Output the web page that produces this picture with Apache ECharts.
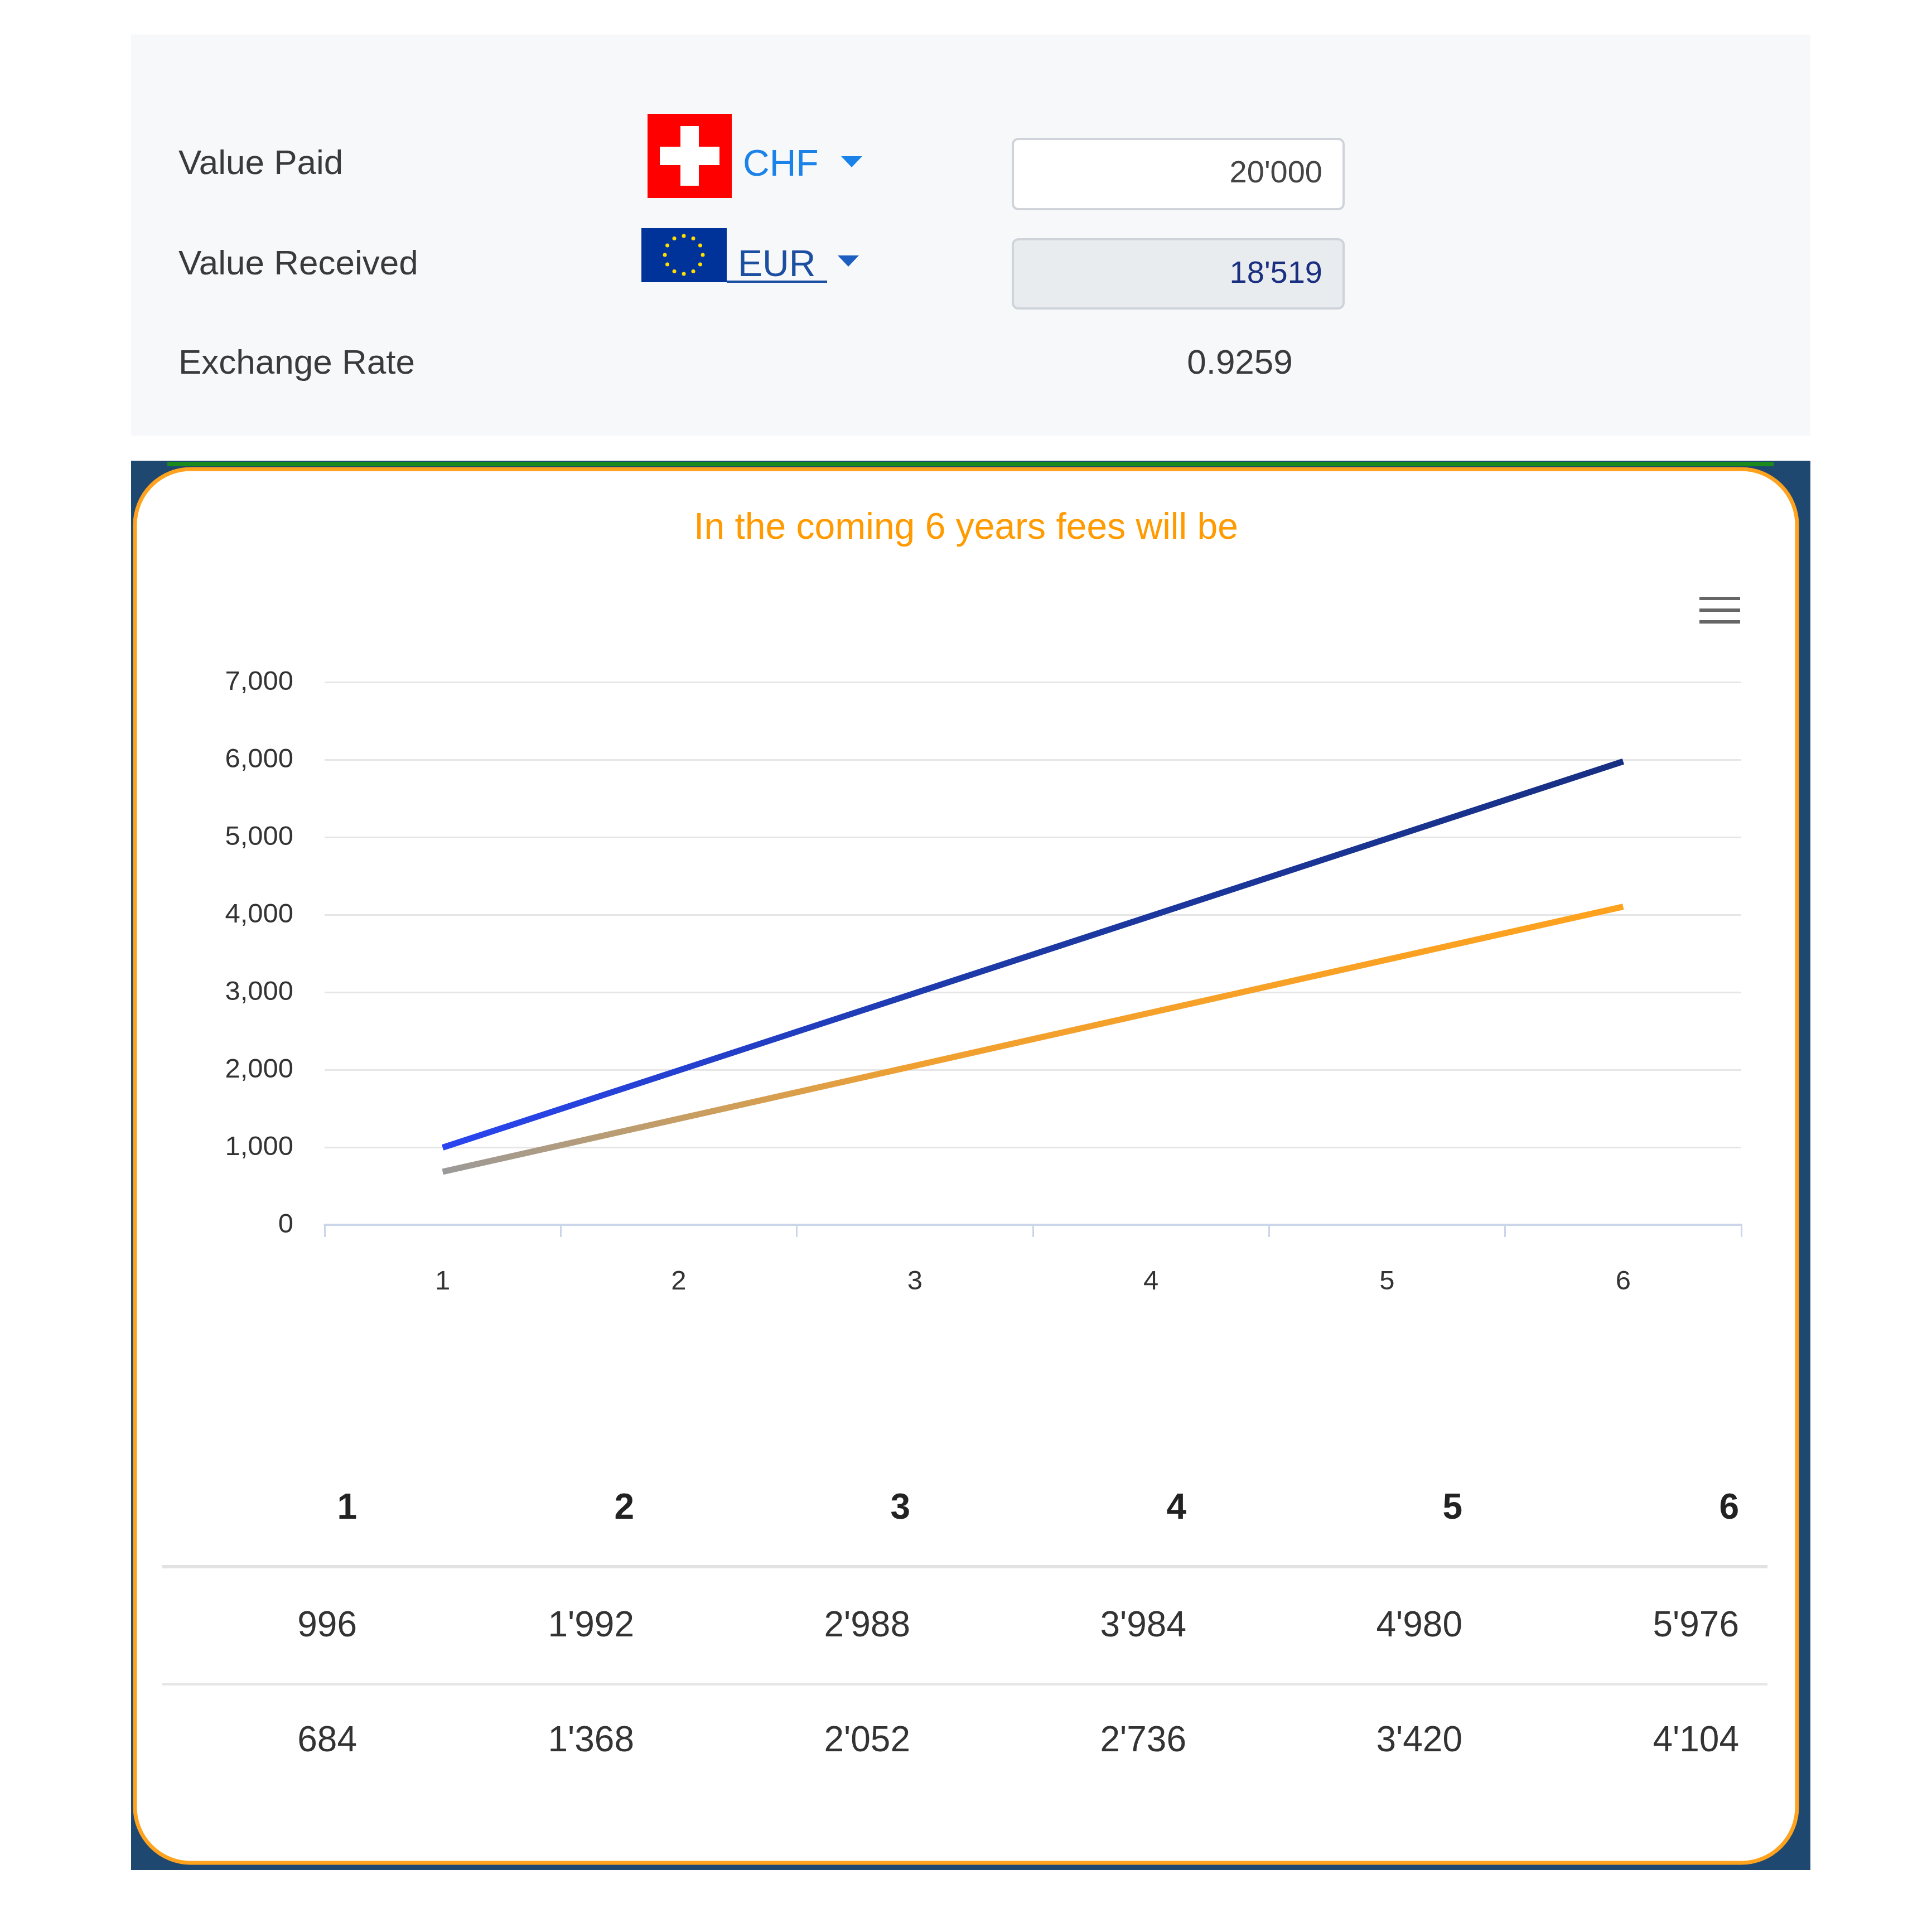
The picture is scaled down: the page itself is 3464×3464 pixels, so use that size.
<!DOCTYPE html>
<html><head><meta charset="utf-8">
<script src="https://cdn.jsdelivr.net/npm/echarts@6/dist/echarts.min.js"></script>
<style>html,body{margin:0;padding:0;background:#fff}#c{width:3464px;height:3464px}</style>
</head><body><div id="c"></div>
<script>
const years = ['1','2','3','4','5','6'];
const feesCHF = [996,1992,2988,3984,4980,5976];
const feesEUR = [684,1368,2052,2736,3420,4104];
const yTicks = [0,1000,2000,3000,4000,5000,6000,7000];
const valuePaid = 20000, valueReceived = 18519, rate = '0.9259';

const fmt = v => String(v).replace(/\B(?=(\d{3})+(?!\d))/g, "'");
const F = 'Helvetica, "Liberation Sans", Arial, sans-serif';
const chart = echarts.init(document.getElementById('c'), null, {renderer:'canvas'});

const colX = [640,1137,1632,2127,2622,3118];
const tableEls = [];
years.forEach((y,i)=>{
  tableEls.push({type:'text',x:colX[i],y:2705,style:{text:y,font:'bold 64px '+F,fill:'#222',textAlign:'right',textVerticalAlign:'middle'}});
  tableEls.push({type:'text',x:colX[i],y:2916,style:{text:fmt(feesCHF[i]),font:'64px '+F,fill:'#333',textAlign:'right',textVerticalAlign:'middle'}});
  tableEls.push({type:'text',x:colX[i],y:3122,style:{text:fmt(feesEUR[i]),font:'64px '+F,fill:'#333',textAlign:'right',textVerticalAlign:'middle'}});
});

const stars = [];
for (let k=0;k<12;k++){const a=k*Math.PI/6;stars.push({type:'circle',shape:{cx:1226+Math.cos(a)*34,cy:457+Math.sin(a)*34,r:3.5},style:{fill:'#ffdd00'}});}

chart.setOption({
  animation:false,
  graphic:[
    {type:'rect',shape:{x:235,y:62,width:3011,height:719},style:{fill:'#f7f8fa'},z:-10},
    {type:'text',x:320,y:295,style:{text:'Value Paid',font:'62px '+F,fill:'#3a3a3a',textVerticalAlign:'middle'}},
    {type:'text',x:320,y:475,style:{text:'Value Received',font:'62px '+F,fill:'#3a3a3a',textVerticalAlign:'middle'}},
    {type:'text',x:320,y:653,style:{text:'Exchange Rate',font:'62px '+F,fill:'#3a3a3a',textVerticalAlign:'middle'}},
    {type:'rect',shape:{x:1161,y:204,width:151,height:151},style:{fill:'#ff0000'}},
    {type:'rect',shape:{x:1220,y:226,width:33,height:107},style:{fill:'#fff'}},
    {type:'rect',shape:{x:1183,y:263,width:107,height:33},style:{fill:'#fff'}},
    {type:'text',x:1332,y:297,style:{text:'CHF',font:'66px '+F,fill:'#1a82e8',textVerticalAlign:'middle'}},
    {type:'polygon',shape:{points:[[1508,280],[1546,280],[1527,300]]},style:{fill:'#1a82e8'}},
    {type:'rect',shape:{x:1150,y:409,width:153,height:97},style:{fill:'#003399'}},
    ...stars,
    {type:'text',x:1323,y:477,style:{text:'EUR',font:'66px '+F,fill:'#1c4fa0',textVerticalAlign:'middle'}},
    {type:'rect',shape:{x:1303,y:503,width:180,height:4},style:{fill:'#1c4fa0'}},
    {type:'polygon',shape:{points:[[1502,458],[1540,458],[1521,478]]},style:{fill:'#1c5fc0'}},
    {type:'rect',shape:{x:1816,y:249,width:593,height:126,r:10},style:{fill:'#fff',stroke:'#cfd4da',lineWidth:4}},
    {type:'text',x:2371,y:312,style:{text:fmt(valuePaid),font:'56px '+F,fill:'#444',textAlign:'right',textVerticalAlign:'middle'}},
    {type:'rect',shape:{x:1816,y:429,width:593,height:124,r:10},style:{fill:'#e9ecef',stroke:'#cfd4da',lineWidth:4}},
    {type:'text',x:2371,y:492,style:{text:fmt(valueReceived),font:'56px '+F,fill:'#1a2f80',textAlign:'right',textVerticalAlign:'middle'}},
    {type:'text',x:2223,y:653,style:{text:rate,font:'62px '+F,fill:'#3a3a3a',textAlign:'center',textVerticalAlign:'middle'}},
    {type:'rect',shape:{x:235,y:826,width:3011,height:2527},style:{fill:'#1f4870'},z:-10},
    {type:'rect',shape:{x:300,y:828,width:2880,height:8},style:{fill:'#1a8a1a'},z:-9},
    {type:'rect',shape:{x:242,y:841,width:2980,height:2499,r:100},style:{fill:'#fff',stroke:'#ffa21e',lineWidth:7},z:-8},
    {type:'text',x:1732,y:948,style:{text:'In the coming 6 years fees will be',font:'66px '+F,fill:'#ff9a00',textAlign:'center',textVerticalAlign:'middle'}},
    {type:'rect',shape:{x:3047,y:1070,width:73,height:6},style:{fill:'#666'}},
    {type:'rect',shape:{x:3047,y:1091,width:73,height:6},style:{fill:'#666'}},
    {type:'rect',shape:{x:3047,y:1112,width:73,height:6},style:{fill:'#666'}},
    {type:'rect',shape:{x:291,y:2806,width:2878,height:6},style:{fill:'#e2e2e2'}},
    {type:'rect',shape:{x:291,y:3018,width:2878,height:4},style:{fill:'#e6e6e6'}},
    ...tableEls
  ],
  grid:{left:582,right:3464-3122,top:1223,bottom:3464-2196,containLabel:false},
  xAxis:{type:'category',data:years,boundaryGap:true,
    axisLine:{lineStyle:{color:'#ccd6eb',width:4}},
    axisTick:{show:true,length:22,lineStyle:{color:'#ccd6eb',width:3}},
    axisLabel:{fontSize:49,color:'#333',margin:78,fontFamily:F}},
  yAxis:{type:'value',min:0,max:7000,interval:1000,
    axisLabel:{fontSize:49,color:'#333',margin:56,fontFamily:F},
    splitLine:{lineStyle:{color:'#e6e6e6',width:3}}},
  series:[
    {type:'line',data:feesCHF,smooth:true,symbol:'none',
      lineStyle:{width:11,color:new echarts.graphic.LinearGradient(0,0,1,0,[{offset:0,color:'#2a45f0'},{offset:0.45,color:'#1d3aa8'},{offset:1,color:'#172f82'}])},
      label:{show:true,position:'top',distance:14,fontSize:53,color:'#1a2f80',fontFamily:F}},
    {type:'line',data:feesEUR,smooth:true,symbol:'none',
      lineStyle:{width:11,color:new echarts.graphic.LinearGradient(0,0,1,0,[{offset:0,color:'#9a9a9a'},{offset:0.4,color:'#f0a030'},{offset:1,color:'#ffa21e'}])},
      label:{show:true,position:'top',distance:14,fontSize:53,color:'#ffa21e',fontFamily:F}}
  ]
});
</script></body></html>
